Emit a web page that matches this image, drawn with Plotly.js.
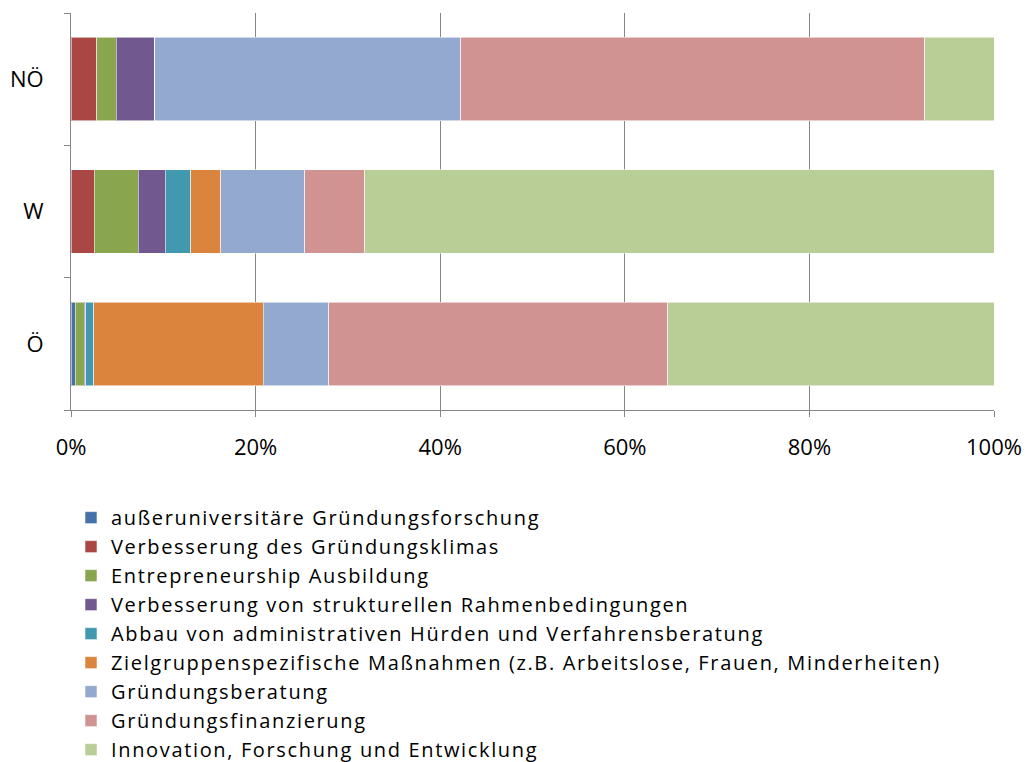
<!DOCTYPE html>
<html>
<head>
<meta charset="utf-8">
<script src="https://cdn.plot.ly/plotly-3.0.1.min.js"></script>
<style>html,body{margin:0;padding:0;background:#fff;}#chart{width:1025px;height:762px;}
.legendtext{letter-spacing:1.65px;}</style>
</head>
<body>
<div id="chart"></div>
<script>
const regions = ['Ö', 'W', 'NÖ'];
const seriesNames = [
  'außeruniversitäre Gründungsforschung',
  'Verbesserung des Gründungsklimas',
  'Entrepreneurship Ausbildung',
  'Verbesserung von strukturellen Rahmenbedingungen',
  'Abbau von administrativen Hürden und Verfahrensberatung',
  'Zielgruppenspezifische Maßnahmen (z.B. Arbeitslose, Frauen, Minderheiten)',
  'Gründungsberatung',
  'Gründungsfinanzierung',
  'Innovation, Forschung und Entwicklung'
];
// values per series, order: Ö, W, NÖ (percent)
const forschung      = [0.45, 0.0, 0.0];
const klima          = [0.0, 2.5, 2.8];
const ausbildung     = [1.0, 4.8, 2.1];
const rahmen         = [0.15, 2.9, 4.2];
const huerden        = [0.85, 2.8, 0.0];
const zielgruppen    = [18.4, 3.25, 0.0];
const beratung       = [7.1, 9.1, 33.1];
const finanzierung   = [36.7, 6.5, 50.3];
const innovation     = [35.35, 68.15, 7.5];
const seriesValues = [forschung, klima, ausbildung, rahmen, huerden, zielgruppen, beratung, finanzierung, innovation];
const colors = ['#4572A7', '#AA4643', '#89A54E', '#71588F', '#4198AF', '#DB843D', '#93A9CF', '#D19392', '#B9CD96'];
const xTickVals = [0, 20, 40, 60, 80, 100];
const xTickText = ['0%', '20%', '40%', '60%', '80%', '100%'];

const traces = seriesNames.map((name, i) => ({
  type: 'bar',
  orientation: 'h',
  name: name,
  y: regions,
  x: seriesValues[i],
  marker: { color: colors[i], line: { color: 'rgba(255,255,255,0.55)', width: 1 } },
  width: 0.63,
  hoverinfo: 'x+name'
}));

const font = { family: 'Open Sans, sans-serif', color: '#000' };

const layout = {
  width: 1025, height: 762,
  barmode: 'stack',
  paper_bgcolor: '#fff', plot_bgcolor: '#fff',
  margin: { l: 71, r: 31, t: 13, b: 352, autoexpand: false },
  font: font,
  showlegend: true,
  legend: {
    orientation: 'v', traceorder: 'normal',
    x: 0.0, xanchor: 'left', y: -0.222, yanchor: 'top',
    font: { family: 'Open Sans, sans-serif', size: 20, color: '#000' },
    itemwidth: 30, tracegroupgap: 0, bgcolor: 'rgba(0,0,0,0)'
  },
  xaxis: {
    range: [0, 100], tickvals: xTickVals, ticktext: xTickText,
    showgrid: true, gridcolor: '#868686', gridwidth: 1,
    showline: true, linecolor: '#868686', linewidth: 1,
    ticks: 'outside', ticklen: 6, tickcolor: '#868686',
    tickfont: { family: 'Open Sans, sans-serif', size: 22, color: '#000' },
    ticklabelstandoff: 12, zeroline: false, fixedrange: true
  },
  yaxis: {
    type: 'category', categoryorder: 'array', categoryarray: regions,
    range: [-0.5, 2.5],
    showgrid: false, showline: true, linecolor: '#868686', linewidth: 1,
    ticks: 'outside', ticklen: 6, tickcolor: '#868686', tickson: 'boundaries',
    tickfont: { family: 'Open Sans, sans-serif', size: 22, color: '#000' },
    ticklabelstandoff: 22, fixedrange: true
  }
};

Plotly.newPlot('chart', traces, layout, { displayModeBar: false, staticPlot: true });
</script>
</body>
</html>
